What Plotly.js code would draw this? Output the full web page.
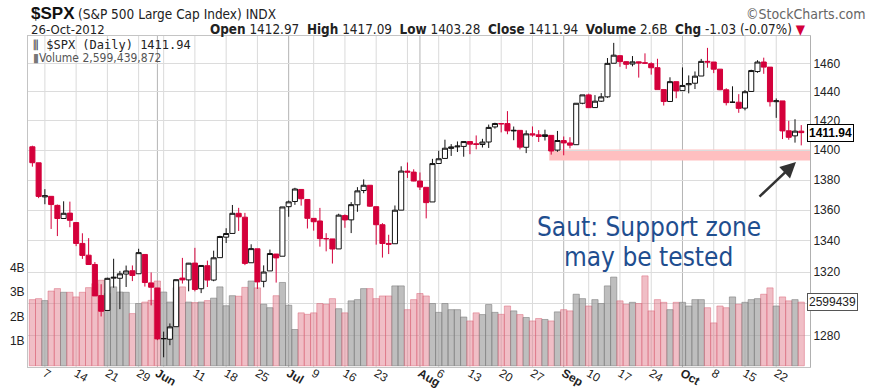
<!DOCTYPE html>
<html>
<head>
<meta charset="utf-8">
<script src="https://cdn.plot.ly/plotly-3.0.1.min.js"></script>
<style>
  html, body { margin: 0; padding: 0; background: #fff; }
  #chart { width: 874px; height: 389px; }
</style>
</head>
<body>
<div id="chart"></div>
<script>
// ---------- DATA ----------
const dates = [
  '2012-05-03','2012-05-04','2012-05-07','2012-05-08','2012-05-09','2012-05-10','2012-05-11',
  '2012-05-14','2012-05-15','2012-05-16','2012-05-17','2012-05-18',
  '2012-05-21','2012-05-22','2012-05-23','2012-05-24','2012-05-25',
  '2012-05-29','2012-05-30','2012-05-31','2012-06-01',
  '2012-06-04','2012-06-05','2012-06-06','2012-06-07','2012-06-08',
  '2012-06-11','2012-06-12','2012-06-13','2012-06-14','2012-06-15',
  '2012-06-18','2012-06-19','2012-06-20','2012-06-21','2012-06-22',
  '2012-06-25','2012-06-26','2012-06-27','2012-06-28','2012-06-29',
  '2012-07-02','2012-07-03','2012-07-05','2012-07-06',
  '2012-07-09','2012-07-10','2012-07-11','2012-07-12','2012-07-13',
  '2012-07-16','2012-07-17','2012-07-18','2012-07-19','2012-07-20',
  '2012-07-23','2012-07-24','2012-07-25','2012-07-26','2012-07-27',
  '2012-07-30','2012-07-31','2012-08-01','2012-08-02','2012-08-03',
  '2012-08-06','2012-08-07','2012-08-08','2012-08-09','2012-08-10',
  '2012-08-13','2012-08-14','2012-08-15','2012-08-16','2012-08-17',
  '2012-08-20','2012-08-21','2012-08-22','2012-08-23','2012-08-24',
  '2012-08-27','2012-08-28','2012-08-29','2012-08-30','2012-08-31',
  '2012-09-04','2012-09-05','2012-09-06','2012-09-07',
  '2012-09-10','2012-09-11','2012-09-12','2012-09-13','2012-09-14',
  '2012-09-17','2012-09-18','2012-09-19','2012-09-20','2012-09-21',
  '2012-09-24','2012-09-25','2012-09-26','2012-09-27','2012-09-28',
  '2012-10-01','2012-10-02','2012-10-03','2012-10-04','2012-10-05',
  '2012-10-08','2012-10-09','2012-10-10','2012-10-11','2012-10-12',
  '2012-10-15','2012-10-16','2012-10-17','2012-10-18','2012-10-19',
  '2012-10-22','2012-10-23','2012-10-24','2012-10-25','2012-10-26'
];

const open = [
  1402.32,1391.51,1368.79,1369.16,1363.20,1354.58,1358.11,
  1351.93,1338.36,1330.78,1324.82,1305.05,
  1295.73,1316.09,1316.02,1318.72,1320.81,
  1318.90,1331.25,1313.09,1309.87,
  1278.29,1277.82,1285.61,1316.15,1314.99,
  1325.72,1309.40,1324.02,1314.88,1329.19,
  1342.42,1344.83,1357.98,1355.43,1325.92,
  1334.90,1314.09,1320.71,1331.52,1330.12,
  1362.33,1365.75,1373.72,1367.09,
  1354.66,1352.96,1341.40,1341.29,1334.81,
  1356.50,1353.68,1363.58,1373.01,1376.51,
  1362.34,1350.52,1338.35,1338.17,1360.05,
  1385.94,1385.27,1379.32,1375.13,1365.45,
  1391.04,1394.46,1401.23,1402.26,1402.58,
  1405.87,1404.36,1403.89,1405.57,1415.84,
  1417.85,1418.13,1413.09,1413.49,1401.99,
  1411.13,1410.44,1409.32,1410.08,1400.07,
  1406.54,1404.94,1403.74,1432.12,
  1437.92,1429.13,1433.56,1436.56,1460.07,
  1465.42,1461.19,1459.50,1461.05,1460.34,
  1459.76,1456.94,1441.60,1433.36,1447.13,
  1440.90,1444.99,1446.05,1451.08,1461.40,
  1460.93,1455.90,1441.48,1432.82,1432.84,
  1428.75,1440.31,1454.22,1460.94,1457.34,
  1433.21,1433.74,1413.20,1409.74,1412.97
];

const high = [
  1403.07,1391.51,1373.91,1369.16,1363.73,1365.88,1365.66,
  1351.93,1344.94,1341.78,1326.36,1312.24,
  1316.39,1328.49,1320.71,1324.14,1324.20,
  1334.93,1331.25,1319.74,1309.87,
  1282.55,1287.62,1315.13,1329.05,1325.81,
  1335.52,1324.31,1327.28,1333.68,1343.32,
  1348.22,1363.46,1361.57,1358.27,1337.82,
  1334.90,1324.24,1334.40,1331.52,1362.17,
  1366.35,1374.81,1373.85,1367.09,
  1354.87,1361.54,1345.00,1341.29,1357.70,
  1357.26,1365.36,1375.26,1380.39,1376.51,
  1362.34,1351.53,1343.98,1363.13,1389.19,
  1391.74,1387.16,1385.03,1375.13,1394.16,
  1399.63,1407.14,1404.14,1405.95,1405.98,
  1405.87,1410.03,1407.73,1417.44,1418.71,
  1418.13,1426.68,1416.12,1413.49,1413.46,
  1416.17,1413.63,1413.95,1410.08,1413.09,
  1409.31,1408.81,1432.12,1437.92,
  1438.74,1437.76,1439.15,1463.76,1474.51,
  1465.63,1461.47,1465.15,1461.23,1467.07,
  1460.72,1463.24,1441.60,1450.20,1447.13,
  1457.14,1451.52,1454.30,1463.14,1470.96,
  1460.93,1455.90,1442.52,1443.90,1438.43,
  1441.31,1455.51,1462.20,1464.02,1457.34,
  1435.46,1433.74,1420.04,1421.12,1417.09
];

const low = [
  1388.91,1367.96,1363.94,1347.75,1343.13,1354.58,1348.89,
  1336.61,1328.41,1324.79,1304.86,1291.98,
  1295.73,1310.04,1296.53,1310.50,1314.23,
  1318.90,1310.76,1298.90,1277.25,
  1266.74,1274.16,1285.61,1312.68,1307.77,
  1307.73,1306.62,1310.51,1314.14,1329.19,
  1338.63,1344.83,1346.45,1324.41,1325.92,
  1309.27,1310.30,1320.71,1313.29,1330.12,
  1355.70,1363.53,1363.02,1348.03,
  1346.65,1336.27,1333.25,1325.41,1334.81,
  1348.51,1345.07,1358.96,1371.21,1362.19,
  1337.56,1329.24,1331.50,1338.17,1360.05,
  1381.37,1379.17,1373.35,1354.65,1365.45,
  1391.04,1394.46,1396.13,1398.80,1395.62,
  1397.32,1400.60,1401.83,1401.53,1414.67,
  1412.12,1410.86,1406.78,1400.50,1398.04,
  1409.11,1405.59,1406.57,1397.01,1398.96,
  1396.56,1401.25,1403.74,1431.45,
  1428.98,1429.13,1432.99,1435.91,1460.07,
  1457.55,1456.13,1457.88,1449.98,1459.51,
  1452.06,1441.59,1430.53,1433.36,1435.60,
  1440.90,1439.01,1441.99,1451.08,1456.89,
  1453.10,1441.18,1430.64,1432.82,1425.53,
  1427.24,1440.31,1453.35,1452.63,1429.85,
  1422.06,1407.56,1407.10,1405.14,1403.28
];

const close = [
  1391.57,1369.10,1369.58,1363.72,1354.58,1357.99,1353.39,
  1338.35,1330.66,1324.80,1304.86,1295.22,
  1315.99,1316.63,1318.86,1320.68,1317.82,
  1332.42,1313.32,1310.33,1278.04,
  1278.18,1285.50,1315.13,1314.99,1325.66,
  1308.93,1324.18,1314.88,1329.10,1342.84,
  1344.78,1357.98,1355.69,1325.51,1335.02,
  1313.72,1319.99,1331.85,1329.04,1362.16,
  1365.51,1374.02,1367.58,1354.68,
  1352.46,1341.47,1341.45,1334.76,1356.78,
  1353.64,1363.67,1372.78,1376.51,1362.66,
  1350.52,1338.31,1337.89,1360.02,1385.97,
  1385.30,1379.32,1375.32,1365.00,1390.99,
  1394.23,1401.35,1402.22,1402.80,1405.87,
  1404.11,1403.93,1405.53,1415.51,1418.16,
  1418.13,1413.17,1413.49,1402.08,1411.13,
  1410.44,1409.30,1410.49,1399.48,1406.58,
  1404.94,1403.44,1432.12,1437.92,
  1429.08,1433.56,1436.56,1459.99,1465.77,
  1461.19,1459.32,1461.05,1460.26,1460.15,
  1456.89,1441.59,1433.32,1447.15,1440.67,
  1444.49,1445.75,1450.99,1461.40,1460.93,
  1455.88,1441.48,1432.56,1432.84,1428.59,
  1440.13,1454.92,1460.91,1457.34,1433.19,
  1433.82,1413.11,1408.75,1412.97,1411.94
];

// close of the session before the first candle (2-May-2012)
const prevClose0 = 1402.31;

// volume, billions of shares
const volumeB = [
  2.70,2.74,2.66,3.05,3.15,3.00,3.00,
  2.81,3.00,3.19,3.35,3.49,
  2.95,3.22,3.01,3.00,2.13,
  2.54,2.60,2.67,3.46,
  3.01,2.60,3.19,3.22,2.60,
  2.58,2.60,2.66,2.76,3.22,
  2.45,2.86,2.84,3.20,3.46,
  3.18,2.51,2.37,2.86,3.40,
  2.47,1.48,2.16,2.10,
  2.16,2.54,2.51,2.74,2.33,
  2.16,2.65,2.70,3.15,3.15,
  2.74,2.85,2.85,3.26,3.26,
  2.29,2.70,2.95,2.85,2.54,
  2.18,2.54,2.29,2.29,1.99,
  1.83,2.16,2.09,2.50,2.18,
  2.10,2.44,2.24,2.09,1.97,
  1.83,1.93,1.89,1.83,2.20,
  2.29,2.24,2.92,2.74,
  2.44,2.70,2.54,3.26,3.62,
  2.65,2.51,2.59,2.54,3.67,
  2.24,2.70,2.59,2.29,2.59,
  2.59,2.44,2.70,2.70,2.37,
  1.75,2.44,2.37,2.81,2.51,
  2.59,2.70,2.74,2.92,3.18,
  2.44,2.81,2.65,2.70,2.599439872
];

// x-axis tick labels
const tickDates = ['2012-05-07','2012-05-14','2012-05-21','2012-05-29','2012-06-01','2012-06-11',
  '2012-06-18','2012-06-25','2012-07-02','2012-07-09','2012-07-16','2012-07-23','2012-08-01',
  '2012-08-06','2012-08-13','2012-08-20','2012-08-27','2012-09-04','2012-09-10','2012-09-17',
  '2012-09-24','2012-10-01','2012-10-08','2012-10-15','2012-10-22'];
const tickLabels = ['7','14','21','29','<b>Jun</b>','11','18','25','<b>Jul</b>','9','16','23',
  '<b>Aug</b>','6','13','20','27','<b>Sep</b>','10','17','24','<b>Oct</b>','8','15','22'];

// vertical grid lines: week starts and month starts
const weekGridDates = ['2012-05-07','2012-05-14','2012-05-21','2012-05-29','2012-06-04','2012-06-11',
  '2012-06-18','2012-06-25','2012-07-09','2012-07-16','2012-07-23','2012-07-30','2012-08-06',
  '2012-08-13','2012-08-20','2012-08-27','2012-09-10','2012-09-17','2012-09-24','2012-10-08',
  '2012-10-15','2012-10-22'];
const monthGridDates = ['2012-06-01','2012-07-02','2012-08-01','2012-09-04','2012-10-01'];

// price axis ticks (1300 label is hidden under the volume marker in the reference)
const priceTicks = [1280,1300,1320,1340,1360,1380,1400,1420,1440,1460];
const priceTickLabels = ['1280','','1320','1340','1360','1380','1400','1420','1440','1460'];
// volume axis ticks (billions)
const volTicks = [1,2,3,4];
const volTickLabels = ['1B','2B','3B','4B'];

// support zone drawn on the chart
const supportLow = 1393;
const supportHigh = 1400.5;
const supportStartDate = '2012-08-30';

// ---------- BUILD ----------
const RED = '#d4003b';
const BLACK = '#111111';
const n = dates.length;
const blackIdx = [], redIdx = [];
const volColor = [], volLine = [];
for (let i = 0; i < n; i++) {
  const prev = i === 0 ? prevClose0 : close[i - 1];
  if (close[i] >= prev) {
    blackIdx.push(i);
    volColor.push('rgba(150,150,150,0.62)');
    volLine.push('rgba(120,120,120,0.55)');
  } else {
    redIdx.push(i);
    volColor.push('rgba(222,110,128,0.45)');
    volLine.push('rgba(215,90,110,0.45)');
  }
}
const pick = (arr, idx) => idx.map(i => arr[i]);

const volTrace = {
  type: 'bar', x: dates, y: volumeB, xaxis: 'x', yaxis: 'y',
  marker: { color: volColor, line: { color: volLine, width: 1 } },
  hoverinfo: 'skip', showlegend: false
};
function candleTrace(idx, col, upFill, downFill) {
  return {
    type: 'candlestick', xaxis: 'x', yaxis: 'y2',
    x: pick(dates, idx), open: pick(open, idx), high: pick(high, idx),
    low: pick(low, idx), close: pick(close, idx),
    increasing: { line: { color: col, width: 1 }, fillcolor: upFill },
    decreasing: { line: { color: col, width: 1 }, fillcolor: downFill },
    whiskerwidth: 0, hoverinfo: 'skip', showlegend: false
  };
}
const blackTrace = candleTrace(blackIdx, BLACK, '#ffffff', BLACK);
const redTrace = candleTrace(redIdx, RED, '#ffffff', RED);

const last = n - 1;
const lastO = open[last], lastH = high[last], lastL = low[last], lastC = close[last];
const chg = lastC - close[last - 1];
const chgPct = chg / close[last - 1] * 100;
const lastVolFull = Math.round(volumeB[last] * 1e9);

const shapes = [];
weekGridDates.forEach(d => shapes.push({
  type: 'line', xref: 'x', yref: 'paper', x0: dates.indexOf(d), x1: dates.indexOf(d), y0: 0, y1: 1,
  line: { color: '#dadada', width: 1 }, layer: 'below'
}));
monthGridDates.forEach(d => shapes.push({
  type: 'line', xref: 'x', yref: 'paper', x0: dates.indexOf(d), x1: dates.indexOf(d), y0: 0, y1: 1,
  line: { color: '#b4b4b4', width: 1 }, layer: 'below'
}));
shapes.push({
  type: 'rect', xref: 'x', yref: 'y2',
  x0: dates.indexOf(supportStartDate) - 0.3, x1: n + 1,
  y0: supportLow, y1: supportHigh,
  fillcolor: '#ffbfc0', line: { width: 0 }, layer: 'below'
});

const NARROW = 'Liberation Sans Narrow, Arial Narrow, DejaVu Sans Condensed, sans-serif';
const SANS = 'Liberation Sans, Arial, sans-serif';
const NOTE = 'DejaVu Sans Condensed, DejaVu Sans, sans-serif';
const fmt = v => v.toFixed(2);
const px = v => (v - 28) / 782;     // page x -> paper
const py = v => (367 - v) / 331;    // page y -> paper

const annotations = [
  { xref: 'paper', yref: 'paper', x: px(29), y: py(13), xanchor: 'left', yanchor: 'middle',
    text: '<b>$SPX</b>', showarrow: false, font: { family: SANS, size: 17, color: '#111' } },
  { xref: 'paper', yref: 'paper', x: px(76), y: py(14), xanchor: 'left', yanchor: 'middle',
    text: '(S&P 500 Large Cap Index) INDX', showarrow: false, font: { family: NARROW, size: 13.5, color: '#222' } },
  { xref: 'paper', yref: 'paper', x: px(868), y: py(14), xanchor: 'right', yanchor: 'middle',
    text: '©StockCharts.com', showarrow: false, font: { family: NARROW, size: 14, color: '#666' } },
  { xref: 'paper', yref: 'paper', x: px(29), y: py(29), xanchor: 'left', yanchor: 'middle',
    text: '26-Oct-2012', showarrow: false, font: { family: NARROW, size: 13, color: '#222' } },
  { xref: 'paper', yref: 'paper', x: px(808), y: py(29), xanchor: 'right', yanchor: 'middle',
    text: '<b>Open</b> ' + fmt(lastO) + '  <b>High</b> ' + fmt(lastH) + '  <b>Low</b> ' + fmt(lastL) +
          '  <b>Close</b> ' + fmt(lastC) + '  <b>Volume</b> ' + volumeB[last].toFixed(1) + 'B  <b>Chg</b> ' +
          fmt(chg) + ' (' + chgPct.toFixed(2) + '%) <span style="color:' + RED + '">▼</span>',
    showarrow: false, font: { family: NARROW, size: 13.4, color: '#222' } },
  { xref: 'paper', yref: 'paper', x: px(31), y: py(45), xanchor: 'left', yanchor: 'middle',
    text: '⫼ $SPX (Daily) ' + fmt(lastC), showarrow: false, font: { family: 'DejaVu Sans Mono, monospace', size: 12, color: '#222' } },
  { xref: 'paper', yref: 'paper', x: px(31), y: py(58), xanchor: 'left', yanchor: 'middle',
    text: '<span style="color:#777">▮</span>Volume ' + lastVolFull.toLocaleString('en-US'), showarrow: false,
    font: { family: NARROW, size: 12, color: '#555' } },
  // last price marker
  { xref: 'paper', yref: 'y2', x: 1, y: Math.log10(lastC), xanchor: 'left', yanchor: 'middle', xshift: -3,
    text: '<b>' + fmt(lastC) + '</b>', showarrow: false, bgcolor: '#ffffff', bordercolor: '#000', borderwidth: 1,
    borderpad: 1, font: { family: SANS, size: 12, color: '#000' } },
  // last volume marker
  { xref: 'paper', yref: 'y', x: 1, y: volumeB[last], xanchor: 'left', yanchor: 'middle', xshift: -3,
    text: String(Math.floor(volumeB[last] * 1e6)), showarrow: false, bgcolor: '#ffffff', bordercolor: '#555', borderwidth: 1,
    borderpad: 1, font: { family: SANS, size: 12, color: '#222' } },
  // commentary
  { xref: 'paper', yref: 'paper', x: px(648.5), y: py(227), xanchor: 'center', yanchor: 'middle',
    text: 'Saut: Support zone', showarrow: false,
    font: { family: NOTE, size: 26, color: '#1f4e8f' } },
  { xref: 'paper', yref: 'paper', x: px(648.5), y: py(257), xanchor: 'center', yanchor: 'middle',
    text: 'may be tested', showarrow: false,
    font: { family: NOTE, size: 26, color: '#1f4e8f' } },
  { xref: 'paper', yref: 'paper', x: px(796), y: py(162), ax: -38, ay: 36, text: '', showarrow: true,
    arrowhead: 2, arrowsize: 1.25, arrowwidth: 2.5, arrowcolor: '#333', standoff: 0 }
];

const layout = {
  width: 874, height: 389,
  margin: { l: 28, r: 64, t: 36, b: 22, pad: 0 },
  paper_bgcolor: '#ffffff', plot_bgcolor: '#ffffff',
  showlegend: false, bargap: 0, boxgap: 0.1, boxgroupgap: 0.1,
  font: { family: SANS, size: 12, color: '#222' },
  xaxis: {
    type: 'category', categoryorder: 'array', categoryarray: dates,
    range: [-0.7, 124.4], tickvals: tickDates, ticktext: tickLabels,
    showgrid: false, zeroline: false, ticks: '', ticklabelstandoff: -6,
    tickfont: { family: SANS, size: 12, color: '#222' },
    showline: true, linecolor: '#c4c4c4', mirror: true, rangeslider: { visible: false },
    fixedrange: true
  },
  yaxis: {
    range: [-0.05, 13.46], side: 'left', tickvals: volTicks, ticktext: volTickLabels,
    showgrid: false, zeroline: false, ticks: '', showline: true, linecolor: '#c4c4c4',
    tickfont: { family: SANS, size: 12, color: '#222' }, fixedrange: true
  },
  yaxis2: {
    type: 'log', overlaying: 'y', side: 'right', range: [3.10065, 3.17009],
    tickvals: priceTicks, ticktext: priceTickLabels,
    showgrid: true, gridcolor: '#dcdcdc', gridwidth: 1, zeroline: false,
    ticks: '', showline: true, linecolor: '#b0b0b0',
    tickfont: { family: SANS, size: 12, color: '#222' }, fixedrange: true
  },
  shapes: shapes,
  annotations: annotations
};

Plotly.newPlot('chart', [volTrace, blackTrace, redTrace], layout, { displayModeBar: false, staticPlot: true });
</script>
</body>
</html>
